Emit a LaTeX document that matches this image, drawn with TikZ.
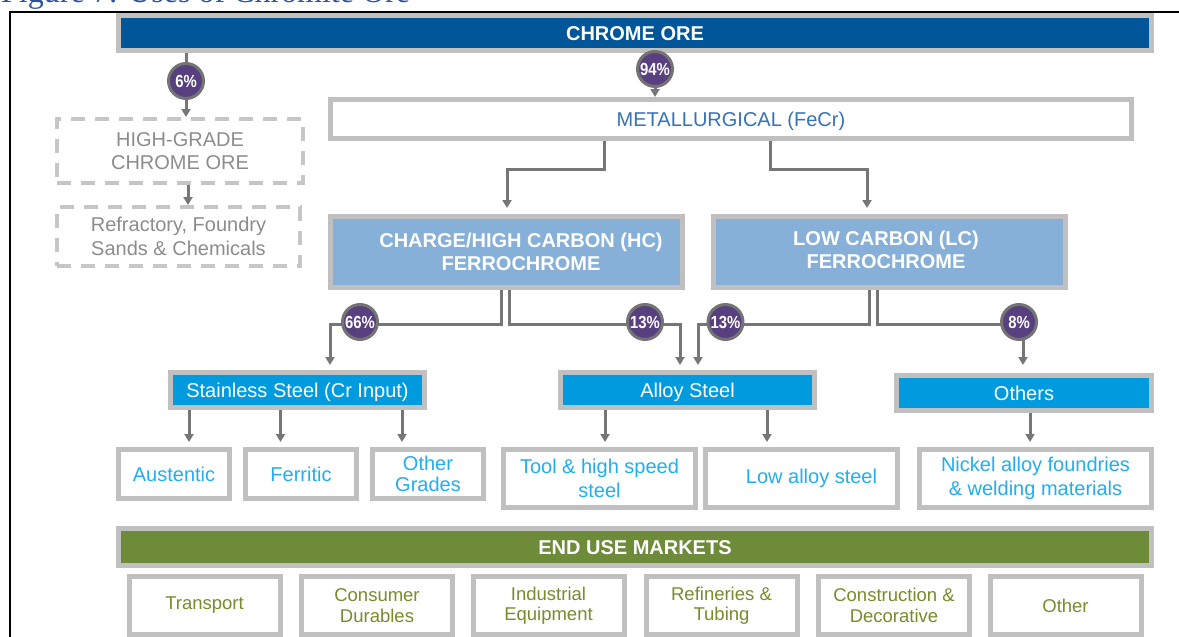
\documentclass[tikz,border=0pt]{standalone}
\usepackage{fontspec}
\setmainfont{Liberation Sans}
\newfontfamily\titlefont{Liberation Serif}
\usetikzlibrary{arrows.meta}
\pgfdeclarelayer{background}
\pgfsetlayers{background,main}
\definecolor{orebl}{HTML}{005699}
\definecolor{bordgr}{HTML}{C0C0C0}
\definecolor{metbl}{HTML}{3572B8}
\definecolor{ferro}{HTML}{86B0D8}
\definecolor{cyanbox}{HTML}{009BDE}
\definecolor{lvlthree}{HTML}{22AEEE}
\definecolor{endgr}{HTML}{6D8B39}
\definecolor{olivetx}{HTML}{7A8A2C}
\definecolor{purp}{HTML}{583F80}
\definecolor{ringgr}{HTML}{747474}
\definecolor{conngr}{HTML}{767676}
\definecolor{dashgr}{HTML}{C6C6C6}
\definecolor{hgtext}{HTML}{8C8C8C}
\definecolor{titlebl}{HTML}{2F5597}
\newcommand\pctt[1]{\scalebox{0.85}[1]{#1}}
\begin{document}
\begin{tikzpicture}[x=1pt,y=-1pt,
  box/.style={draw=bordgr, line width=5pt, inner sep=0pt, align=center,
    font=\fontsize{20}{23}\selectfont},
  oneline/.style={text height=14.3pt, text depth=0pt},
  orebar/.style={box, oneline, fill=orebl, text=white, font=\fontsize{20}{23}\selectfont\bfseries},
  metbox/.style={box, oneline, fill=white, text=metbl},
  ferrobox/.style={box, fill=ferro, text=white, font=\fontsize{20}{23}\selectfont\bfseries},
  steelbox/.style={box, oneline, fill=cyanbox, text=white},
  gradebox/.style={box, fill=white, text=lvlthree},
  endbar/.style={box, oneline, fill=endgr, text=white, font=\fontsize{20}{23}\selectfont\bfseries},
  mktbox/.style={box, fill=white, text=olivetx, font=\fontsize{18.5}{20.5}\selectfont,
    minimum width=151pt, minimum height=58pt},
  dashbox/.style={draw=dashgr, line width=4pt, dash pattern=on 14pt off 10pt,
    inner sep=0pt, text=hgtext, align=center, font=\fontsize{20}{23.5}\selectfont},
  pct/.style={circle, fill=purp, draw=ringgr, line width=3pt, minimum size=35pt,
    inner sep=0pt, text=white, font=\fontsize{17.5}{17.5}\selectfont\bfseries},
  conn/.style={draw=conngr, line width=3pt},
  arr/.style={conn, -{Triangle[width=9pt,length=8pt]}}
]
\useasboundingbox (0,0) rectangle (1179,637);
\clip (0,0) rectangle (1179,637);

% clipped title
\node[anchor=base west, text=titlebl, font=\titlefont\fontsize{32}{32}\selectfont,
  inner sep=0pt] (title) at (1,2) {Figure 7: Uses of Chromite Ore};

% frame
\draw[line width=2.5pt, black] (10,640) -- (10,12) -- (1182,12);

% boxes
\node[orebar, minimum width=1033pt, minimum height=35pt] (ore) at (635,33) {CHROME ORE};
\node[dashbox, minimum width=246pt, minimum height=64pt] (hg) at (180,151) {HIGH-GRADE\\CHROME ORE};
\node[dashbox, minimum width=243pt, minimum height=59pt] (refr) at (178.5,236.5) {Refractory, Foundry\\Sands \& Chemicals};
\node[metbox, minimum width=801pt, minimum height=39pt] (met) at (731,119) {METALLURGICAL (FeCr)};
\node[ferrobox, minimum width=352pt, minimum height=71pt] (hc) at (506.5,252) {\hspace*{29pt}CHARGE/HIGH CARBON (HC)\\\hspace*{29pt}FERROCHROME};
\node[ferrobox, minimum width=352pt, minimum height=71pt] (lc) at (889.5,252) {\raisebox{2.5pt}{\begin{tabular}{@{}c@{}}LOW CARBON (LC)\\FERROCHROME\end{tabular}}\hspace*{7pt}};
\node[steelbox, minimum width=254pt, minimum height=35pt] (ss) at (297.5,390) {Stainless Steel (Cr Input)};
\node[steelbox, minimum width=254pt, minimum height=35pt] (as) at (687.5,390) {Alloy Steel};
\node[steelbox, minimum width=255pt, minimum height=35pt] (oth) at (1024,393) {Others};
\node[gradebox, minimum width=111pt, minimum height=49pt] (aus) at (174,474) {Austentic};
\node[gradebox, minimum width=111pt, minimum height=49pt] (fer) at (301,474) {Ferritic};
\node[gradebox, minimum width=111pt, minimum height=49pt, font=\fontsize{20}{21}\selectfont] (og) at (428,474) {Other\\Grades};
\node[gradebox, minimum width=192pt, minimum height=58pt, font=\fontsize{20}{24}\selectfont] (tool) at (599.5,478.5) {Tool \& high speed\\steel};
\node[gradebox, minimum width=192pt, minimum height=58pt] (low) at (801.5,478.5) {\hspace*{20pt}Low alloy steel};
\node[gradebox, minimum width=232pt, minimum height=58pt, font=\fontsize{20}{24}\selectfont] (nick) at (1035.5,478.5) {Nickel alloy foundries\\\& welding materials};
\node[endbar, minimum width=1033pt, minimum height=37pt] (end) at (635,547) {END USE MARKETS};
\node[mktbox] (m1) at (204.5,605.5) {Transport};
\node[mktbox] (m2) at (377,605.5) {Consumer\\Durables};
\node[mktbox] (m3) at (548.5,605.5) {Industrial\\Equipment};
\node[mktbox] (m4) at (721.5,605.5) {Refineries \&\\Tubing};
\node[mktbox] (m5) at (894,605.5) {Construction \&\\Decorative};
\node[mktbox] (m6) at (1065.5,605.5) {Other};

% percentage circles
\node[pct] (p6) at (186,81) {\pctt{6\%}};
\node[pct] (p94) at (655,69) {\pctt{94\%}};
\node[pct] (p66) at (360,322) {\pctt{66\%}};
\node[pct] (p13a) at (645,322) {\pctt{13\%}};
\node[pct] (p13b) at (725.5,322) {\pctt{13\%}};
\node[pct] (p8) at (1019,322) {\pctt{8\%}};

% connectors
\begin{pgfonlayer}{background}
\draw[conn] (p6 |- ore.south) -- (p6.north);
\draw[arr] (p6.south) -- (p6.south |- hg.north);
\draw[conn] (p94 |- ore.south) -- (p94.north);
\draw[arr] (p94.south) -- (p94.south |- met.north);
\draw[arr] ([xshift=8]hg.south) -- ([xshift=8]hg.south |- refr.north);
\draw[arr, shorten >=6pt] ([xshift=-127]met.south) -- ++(0,28) -| ([xshift=0.5]hc.north);
\draw[arr, shorten >=6pt] ([xshift=39]met.south) -- ++(0,28) -| ([xshift=-22.5]lc.north);
\draw[arr, shorten >=5pt] ([xshift=-5.5]hc.south) -- ++(0,34) -| ([xshift=32.5]ss.north);
\draw[arr, shorten >=5pt] ([xshift=2.5]hc.south) -- ++(0,34) -| ([xshift=-7.5]as.north);
\draw[arr, shorten >=5pt] ([xshift=-20.5]lc.south) -- ++(0,34) -| ([xshift=10.5]as.north);
\draw[arr, shorten >=8pt] ([xshift=-12]lc.south) -- ++(0,34) -| ([xshift=-1]oth.north);
\foreach \dx/\tg in {-108.5/aus, -17/fer, 104.5/og}
  \draw[arr, shorten >=5pt] ([xshift=\dx]ss.south) -- ([xshift=\dx]ss.south |- \tg.north);
\foreach \dx/\tg in {-82.5/tool, 79.5/low}
  \draw[arr, shorten >=5pt] ([xshift=\dx]as.south) -- ([xshift=\dx]as.south |- \tg.north);
\draw[arr, shorten >=5pt] ([xshift=6]oth.south) -- ([xshift=6]oth.south |- nick.north);
\end{pgfonlayer}
\end{tikzpicture}
\end{document}
